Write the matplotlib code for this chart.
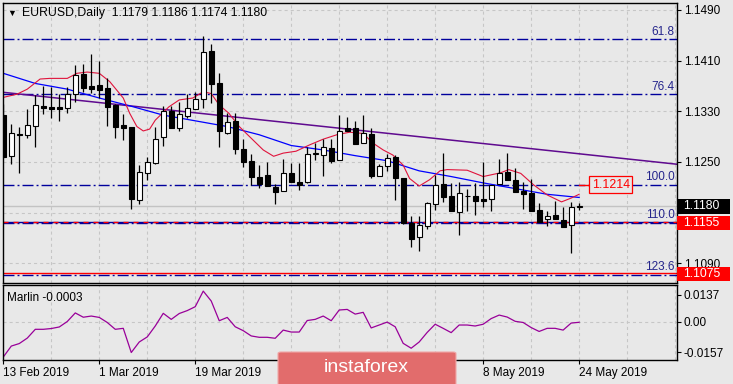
import matplotlib
matplotlib.use("Agg")
import matplotlib.pyplot as plt
from matplotlib.patches import Rectangle, FancyBboxPatch

plt.rcParams['font.family'] = ['Liberation Sans', 'DejaVu Sans']
plt.rcParams['lines.scale_dashes'] = False

# ---- data ----
# dates under the watermark (4 Apr, 22 Apr) are hidden in the reference
date_bars = [0, 12, 24, 60, 72]
date_labels = ["13 Feb 2019", "1 Mar 2019", "19 Mar 2019", "8 May 2019", "24 May 2019"]
hidden_date_bars = [36, 48]

opens = [1.1324, 1.1260, 1.1294, 1.1292, 1.1307, 1.1338, 1.1337, 1.1337, 1.1336, 1.1357,
         1.1389, 1.1370, 1.1372, 1.1367, 1.1340, 1.1308, 1.1305, 1.1190, 1.1232, 1.1248,
         1.1289, 1.1331, 1.1303, 1.1322, 1.1334, 1.1349, 1.1425, 1.1374, 1.1295, 1.1315,
         1.1271, 1.1252, 1.1226, 1.1229, 1.1210, 1.1204, 1.1232, 1.1218, 1.1218, 1.1263,
         1.1261, 1.1272, 1.1253, 1.1303, 1.1303, 1.1280, 1.1294, 1.1228, 1.1243, 1.1258,
         1.1225, 1.1154, 1.1131, 1.1149, 1.1183, 1.1215, 1.1196, 1.1171, 1.1197, 1.1196,
         1.1191, 1.1191, 1.1215, 1.1234, 1.1222, 1.1204, 1.1201, 1.1174, 1.1160, 1.1166,
         1.1158, 1.1151, 1.1179]
highs = [1.1342, 1.1310, 1.1305, 1.1334, 1.1356, 1.1370, 1.1368, 1.1357, 1.1368, 1.1403,
         1.1405, 1.1421, 1.1410, 1.1382, 1.1341, 1.1326, 1.1306, 1.1245, 1.1258, 1.1305,
         1.1338, 1.1338, 1.1344, 1.1358, 1.1361, 1.1449, 1.1437, 1.1390, 1.1327, 1.1328,
         1.1286, 1.1262, 1.1246, 1.1250, 1.1215, 1.1254, 1.1248, 1.1249, 1.1274, 1.1280,
         1.1287, 1.1287, 1.1324, 1.1321, 1.1315, 1.1324, 1.1304, 1.1247, 1.1262, 1.1261,
         1.1225, 1.1164, 1.1164, 1.1187, 1.1229, 1.1264, 1.1217, 1.1219, 1.1208, 1.1217,
         1.1250, 1.1214, 1.1254, 1.1264, 1.1240, 1.1219, 1.1223, 1.1185, 1.1173, 1.1188,
         1.1179, 1.1187, 1.1186]
lows = [1.1256, 1.1247, 1.1233, 1.1288, 1.1274, 1.1325, 1.1319, 1.1315, 1.1327, 1.1344,
        1.1361, 1.1359, 1.1351, 1.1307, 1.1288, 1.1285, 1.1176, 1.1184, 1.1221, 1.1247,
        1.1276, 1.1303, 1.1299, 1.1319, 1.1333, 1.1336, 1.1343, 1.1273, 1.1294, 1.1262,
        1.1242, 1.1213, 1.1209, 1.1212, 1.1183, 1.1204, 1.1219, 1.1206, 1.1217, 1.1253,
        1.1228, 1.1249, 1.1253, 1.1299, 1.1278, 1.1280, 1.1225, 1.1228, 1.1235, 1.1190,
        1.1152, 1.1116, 1.1110, 1.1144, 1.1174, 1.1187, 1.1172, 1.1134, 1.1172, 1.1166,
        1.1179, 1.1173, 1.1215, 1.1221, 1.1202, 1.1176, 1.1173, 1.1156, 1.1149, 1.1160,
        1.1148, 1.1106, 1.1174]
closes = [1.1258, 1.1295, 1.1293, 1.1309, 1.1340, 1.1335, 1.1334, 1.1333, 1.1357, 1.1387,
          1.1367, 1.1366, 1.1364, 1.1337, 1.1306, 1.1304, 1.1192, 1.1234, 1.1250, 1.1287,
          1.1331, 1.1304, 1.1325, 1.1336, 1.1349, 1.1423, 1.1373, 1.1299, 1.1313, 1.1270,
          1.1250, 1.1226, 1.1216, 1.1212, 1.1202, 1.1232, 1.1219, 1.1213, 1.1263, 1.1264,
          1.1273, 1.1252, 1.1299, 1.1299, 1.1278, 1.1295, 1.1228, 1.1243, 1.1256, 1.1225,
          1.1153, 1.1129, 1.1151, 1.1185, 1.1214, 1.1194, 1.1172, 1.1201, 1.1197, 1.1189,
          1.1189, 1.1213, 1.1232, 1.1221, 1.1202, 1.1199, 1.1173, 1.1156, 1.1164, 1.1160,
          1.1148, 1.1179, 1.1180]

# fast (red) moving average, sampled at bar positions
fast_bars = [0, 1.7, 3, 4.6, 5.8, 8, 9.2, 10.5, 12, 13.3, 15, 15.8, 16.7, 17.5, 18.3,
             19, 20.7, 22, 23.7, 25, 26, 27, 28.2, 29.5, 31.2, 32.5, 33.8, 35, 36.6, 38.3,
             40, 41.7, 43.3, 45, 46.2, 47.5, 48.7, 50, 50.8, 52, 53.3, 54.6, 55.5, 58, 60,
             62.2, 63.2, 64.7, 66.3, 68, 69.8, 71, 72]
fast_vals = [1.1352, 1.1357, 1.1365, 1.1381, 1.1382, 1.1382, 1.1390, 1.1392, 1.1390, 1.1377,
             1.1351, 1.1327, 1.1306, 1.1299, 1.1302, 1.1316, 1.1337, 1.1348, 1.1351, 1.1361,
             1.1358, 1.1340, 1.1327, 1.1306, 1.1285, 1.1269, 1.1259, 1.1264, 1.1267, 1.1277,
             1.1286, 1.1293, 1.1297, 1.1295, 1.1280, 1.1269, 1.1261, 1.1245, 1.1224, 1.1212,
             1.1222, 1.1236, 1.1238, 1.1237, 1.1227, 1.1233, 1.1238, 1.1232, 1.1214, 1.1198,
             1.1187, 1.1193, 1.1199]
# slow (blue) moving average
slow_bars = [0, 4, 8, 12, 16, 20, 24, 28, 32, 36, 40, 44, 48, 52, 56, 60, 64, 68, 72]
slow_vals = [1.1390, 1.1374, 1.1365, 1.1351, 1.1338, 1.1324, 1.1315, 1.1306, 1.1293, 1.1276,
             1.1269, 1.1260, 1.1252, 1.1236, 1.1227, 1.1217, 1.1208, 1.1199, 1.1194]
# purple trend line end points
trend_bars = [0, 84.2]
trend_vals = [1.1360, 1.12465]

fib_levels = [1.1444, 1.1357, 1.1214, 1.1154, 1.1072]
fib_labels = ["61.8", "76.4", "100.0", "110.0", "123.6"]
red_levels = [1.1155, 1.1075]
box_level = 1.1214

marlin = [-0.0181, -0.0125, -0.0112, -0.0084, -0.0039, -0.0039, -0.0035, -0.0027, 0.0001, 0.0045,
          0.0023, 0.0029, 0.0022, -0.0004, -0.0039, -0.0034, -0.0158, -0.0104, -0.0078, -0.0022,
          0.0043, 0.0012, 0.0042, 0.0057, 0.0077, 0.0157, 0.0106, 0.0005, 0.0022, -0.0026,
          -0.0046, -0.0073, -0.0080, -0.0080, -0.0085, -0.0043, -0.0053, -0.0053, 0.0006, 0.0012,
          0.0029, 0.0005, 0.0060, 0.0063, 0.0039, 0.0048, -0.0032, -0.0017, -0.0002, -0.0026,
          -0.0111, -0.0136, -0.0104, -0.0055, -0.0013, -0.0034, -0.0056, -0.0017, -0.0017, -0.0022,
          -0.0013, 0.0016, 0.0034, 0.0024, 0.0002, -0.0004, -0.0030, -0.0050, -0.0034, -0.0034,
          -0.0043, -0.0007, -0.0003]
marlin_ticks = [0.0137, 0.0, -0.0157]
marlin_ticklabels = ["0.0137", "0.00", "-0.0157"]
price_ticks = [1.1490, 1.1410, 1.1330, 1.1250, 1.1170, 1.1090]
hidden_price_tick = 1.1170   # covered by the value boxes in the reference

# ---- style ----
BG = "#e8e8e8"
GRID = "#c6c6c6"
FIB = "#00009c"
FIBTXT = "#25258c"
RED = "#ff0000"
FS = 8.5
W, H = 733, 384

fig = plt.figure(figsize=(W / 100, H / 100), dpi=100, facecolor=BG)


def px_rect(x0, y0, x1, y1):
    # pixel box (top-left origin) -> figure fraction rect
    return [x0 / W, 1 - y1 / H, (x1 - x0) / W, (y1 - y0) / H]


ax = fig.add_axes(px_rect(2.7, 2.7, 676.7, 282.7), facecolor=BG)
ax2 = fig.add_axes(px_rect(2.7, 285.3, 676.7, 360.0), facecolor=BG)

n = len(closes)
xs = list(range(n))
grid_bars = list(range(6, 85, 6))

for a in (ax, ax2):
    a.set_xlim(-0.075, 84.2)
    for s in a.spines.values():
        s.set_color("black")
        s.set_linewidth(1.0)
    for g in grid_bars:
        a.axvline(g, color=GRID, lw=0.8, ls=(0, (2.2, 2.2)), zorder=0)

ax.set_ylim(1.10594, 1.15015)
ax2.set_ylim(-0.01964, 0.01867)

# main panel grid
for p in price_ticks:
    ax.axhline(p, color=GRID, lw=0.8, ls=(0, (2.2, 2.2)), zorder=0)
ax.axhline(closes[-1], color="#c3c3c3", lw=1.0, zorder=0.5)

# fib levels
for lv, lb in zip(fib_levels, fib_labels):
    ax.axhline(lv, color=FIB, lw=1.0, ls=(0, (7.9, 2.2, 1.4, 2.2)), zorder=1)
    ax.annotate(lb, xy=(1.0, lv), xycoords=ax.get_yaxis_transform(),
                xytext=(-2, 1.5), textcoords="offset pixels",
                ha="right", va="bottom", fontsize=FS, color=FIBTXT)

# red horizontal levels
ax.axhline(red_levels[0], color=FIB, lw=1.0, zorder=1.1)
ax.axhline(red_levels[0], color=RED, lw=1.0, ls=(0, (3.6, 3.6)), zorder=1.2)
ax.axhline(red_levels[1], color=RED, lw=1.0, zorder=1.2)

# trend line and moving averages
ax.plot(trend_bars, trend_vals, color="#5f0a8f", lw=1.1, zorder=2)
ax.plot(slow_bars, slow_vals, color="#0000ff", lw=0.9, zorder=2)
ax.plot(fast_bars, fast_vals, color="#e0143c", lw=0.8, zorder=2)

# candles
for i in xs:
    o, h, l, c = opens[i], highs[i], lows[i], closes[i]
    ax.vlines(i, l, h, color="black", lw=0.9, zorder=3)
    up = c >= o
    ax.bar(i, abs(c - o), bottom=min(o, c), width=0.62,
           color="white" if up else "black", edgecolor="black", lw=0.8, zorder=4)

# price box 1.1214
ax.plot([n - 1, n - 1 + 1.4], [box_level, box_level], color=RED, lw=1.0, zorder=5)
ax.annotate(f"{box_level:.4f}", xy=(n - 1, box_level), xytext=(31.5, 0),
            textcoords="offset pixels", ha="center", va="center", fontsize=FS + 0.4,
            color=RED, bbox=dict(boxstyle="square,pad=0.2", fc=BG, ec=RED, lw=0.9),
            zorder=6)

# right axis
ax.yaxis.tick_right()
ax.set_yticks(price_ticks,
              ["" if p == hidden_price_tick else f"{p:.4f}" for p in price_ticks])
ax.tick_params(axis="y", length=3, width=0.8, pad=2, labelsize=FS, colors="black")
ax.set_xticks([])

# value boxes on the price scale
ppx = (282.7 - 2.7) / (1.15015 - 1.10594)   # pixels per price unit
bw = 53 / 674.0
bh = 14.5 / ppx
tr = ax.get_yaxis_transform()
for lv, fc in [(closes[-1], "black"), (red_levels[0], RED), (red_levels[1], RED)]:
    yc = lv if fc == "black" else lv - 1.0 / ppx
    ax.add_patch(Rectangle((1.0, yc - bh / 2), bw, bh, transform=tr, facecolor=fc,
                           edgecolor="none", clip_on=False, zorder=7))
    ax.text(1.0 + 6 / 674.0, yc, f"{lv:.4f}", transform=tr, ha="left", va="center",
            fontsize=FS + 0.3, color="white", clip_on=False, zorder=8)

# title
fig.text(7 / W, 1 - 13 / H, "\u25bc", fontsize=6.5, va="center", ha="left", color="black")
fig.text(21.5 / W, 1 - 13 / H,
         f"EURUSD,Daily  {opens[-1]:.4f} {highs[-1]:.4f} {lows[-1]:.4f} {closes[-1]:.4f}",
         fontsize=FS + 0.3, va="center", ha="left", color="black")

# Marlin panel
ax2.axhline(0, color=GRID, lw=0.8, ls=(0, (2.2, 2.2)), zorder=0)
ax2.plot(xs, marlin, color="#990099", lw=0.9, zorder=2)
ax2.yaxis.tick_right()
ax2.set_yticks(marlin_ticks, marlin_ticklabels)
ax2.tick_params(axis="y", length=3, width=0.8, pad=2, labelsize=FS)
ax2.set_xticks(date_bars + hidden_date_bars, date_labels + ["", ""])
ax2.tick_params(axis="x", length=3, width=0.8, pad=2, labelsize=FS)
for t in ax2.get_xticklabels():
    t.set_ha("left")
ax2.text(0.006, 0.91, f"Marlin {marlin[-1]:.4f}", transform=ax2.transAxes,
         ha="left", va="top", fontsize=FS, color="black")

# watermark logo
logo = FancyBboxPatch((278 / W, 1 - 390 / H), 178 / W, 38 / H,
                      boxstyle="round,pad=0,rounding_size=0.004",
                      transform=fig.transFigure, facecolor="#e26c6c",
                      edgecolor="#f0a8a8", lw=0.8, zorder=20)
fig.patches.append(logo)
fig.text(366 / W, 1 - 368 / H, "instaforex", fontsize=14, color="white",
         ha="center", va="center", zorder=21)

fig.savefig("out.png", dpi=100, facecolor=BG)
